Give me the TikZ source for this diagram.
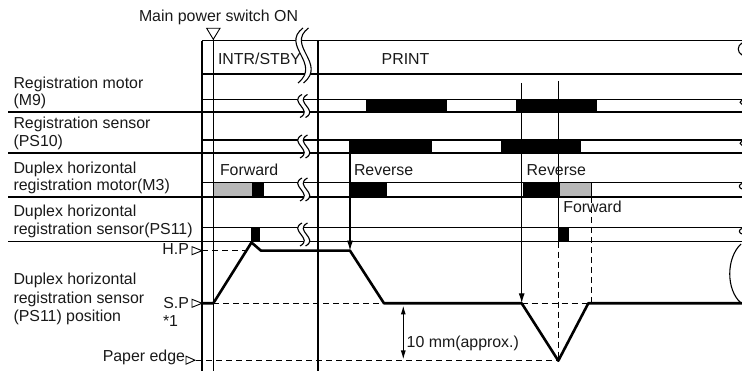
\documentclass[tikz,border=0pt]{standalone}
\usepackage{fontspec}
\setmainfont{Liberation Sans}
\usetikzlibrary{arrows.meta}
\tikzset{
  smallbrk/.pic={
    \fill[white] (2,-11.5) .. controls (-12,-4) and (14,4) .. (0,11.5) -- (5.5,11.5) .. controls (19.5,4) and (-6.5,-4) .. (7.5,-11.5) -- cycle;
    \draw[line width=1.1pt] (2,-11.5) .. controls (-12,-4) and (14,4) .. (0,11.5);
    \draw[line width=1.1pt] (7.5,-11.5) .. controls (-6.5,-4) and (19.5,4) .. (5.5,11.5);
  },
  bigbrk/.pic={
    \fill[white] (3,-27.5) .. controls (-20,-10) and (22,8) .. (-2,27.5) -- (3.5,27.5) .. controls (27.5,8) and (-14.5,-10) .. (8.5,-27.5) -- cycle;
    \draw[line width=1.1pt] (3,-27.5) .. controls (-20,-10) and (22,8) .. (-2,27.5);
    \draw[line width=1.1pt] (8.5,-27.5) .. controls (-14.5,-10) and (27.5,8) .. (3.5,27.5);
  },
}
\begin{document}
\begin{tikzpicture}[x=1pt,y=-1pt,
  every node/.style={inner sep=0pt, outer sep=0pt, text=black!90},
  txt/.style={anchor=base west, font=\fontsize{15.9}{18}\selectfont},
  txtr/.style={anchor=base east, font=\fontsize{15.9}{18}\selectfont},
  thinln/.style={line width=1.1pt},
  sepln/.style={line width=1.4pt},
  heavyln/.style={line width=2.2pt},
  plotln/.style={line width=2.6pt, line join=round},
  dashln/.style={line width=1.1pt, dash pattern=on 6pt off 4pt},
  blackbar/.style={fill=black},
  graybar/.style={fill=black!28, draw=black, line width=0.8pt},
  marker/.style={draw=black, fill=white, line width=0.9pt, line join=miter},
  arr/.style={line width=1.1pt, -{Latex[length=10pt,width=6pt]}},
  dimarr/.style={line width=1.1pt, {Latex[length=9pt,width=5pt]}-{Latex[length=9pt,width=5pt]}},
]
\useasboundingbox (0,0) rectangle (742,371);

% ---------- bars ----------
% Row 1 (M9)
\fill[blackbar] (366,99.5) rectangle (447,112);
\fill[blackbar] (516,99.5) rectangle (597,112);
% Row 2 (PS10)
\fill[blackbar] (350,140) rectangle (431.7,153);
\fill[blackbar] (501,140) rectangle (581,153);
% Row 3 (M3)
\filldraw[graybar] (213.3,182.5) rectangle (252.7,197);
\fill[blackbar] (252.7,182.5) rectangle (264,197);
\fill[blackbar] (350,182.5) rectangle (386.7,197);
\fill[blackbar] (522.7,182.5) rectangle (559,197);
\filldraw[graybar] (559,182.5) rectangle (591.7,197);
% Row 4 (PS11)
\fill[blackbar] (251,227.5) rectangle (260,241.7);
\fill[blackbar] (558.3,227.5) rectangle (569,241.7);

% ---------- horizontal lines ----------
\draw[thinln] (202,40.7) -- (742,40.7);
\draw[thinln] (202,74) -- (742,74);
\draw[thinln] (202,99.5) -- (742,99.5);
\draw[heavyln] (8,112) -- (742,112);
\draw[thinln] (202,140) -- (742,140);
\draw[sepln] (8,153) -- (742,153);
\draw[thinln] (202,182.5) -- (742,182.5);
\draw[sepln] (8,197) -- (742,197);
\draw[thinln] (202,227.5) -- (742,227.5);
\draw[sepln] (8,241.7) -- (742,241.7);

% ---------- dashed reference lines ----------
\draw[dashln] (202,250.7) -- (246,250.7);
\draw[dashln] (213,303.3) -- (384,303.3);
\draw[dashln] (521.7,303.3) -- (588.3,303.3);
\draw[dashln] (196,360.7) -- (558.3,360.7);
\draw[dashln] (558.3,241.7) -- (558.3,360.7);
\draw[dashln] (591.7,197) -- (591.7,303.3);

% ---------- vertical lines ----------
\draw[thinln] (202,40.7) -- (202,371);
\draw[thinln] (213.3,39) -- (213.3,371);
\draw[thinln] (318,40.7) -- (318,371);

% ---------- position plot ----------
\draw[plotln] (202,303.3) -- (213.3,303.3) -- (251.5,242.5) -- (261,250.7) -- (350,250.7)
  -- (384,303.3) -- (521.7,303.3) -- (558.3,360.7) -- (588.3,303.3) -- (742,303.3);

% ---------- event lines / arrows ----------
\coordinate (a1s) at (350,140);
\coordinate (a1e) at (350,250.7);
\coordinate (a2s) at (521.7,83);
\coordinate (a2e) at (521.7,303.3);
\coordinate (l3s) at (558.3,81);
\coordinate (l3e) at (558.3,241.7);
\coordinate (d1) at (403.3,305.5);
\coordinate (d2) at (403.3,359.5);
\draw[arr] (a1s) -- (a1e);
\draw[arr] (a2s) -- (a2e);
\draw[thinln] (l3s) -- (l3e);
\draw[dimarr] (d1) -- (d2);

% ---------- break marks ----------
\pic at (300,55.5) {bigbrk};
\pic at (300,106) {smallbrk};
\pic at (300,146.5) {smallbrk};
\pic at (300,189.5) {smallbrk};
\pic at (300,234.5) {smallbrk};
% right edge marks
\draw[thinln] (742,43) .. controls (737,46) and (737,52) .. (742,55);
\draw[thinln] (742,100) .. controls (739.5,101) and (739.5,103.5) .. (742,104.5);
\draw[thinln] (742,141) .. controls (739.5,142) and (739.5,144.5) .. (742,145.5);
\draw[thinln] (742,183.5) .. controls (738.5,184.5) and (738.5,188) .. (742,189);
\draw[thinln] (742,228.5) .. controls (738.5,229.5) and (738.5,233) .. (742,234);
\draw[thinln] (741,244) .. controls (726,258) and (726,290) .. (741,303);

% ---------- markers ----------
\draw[marker] (206.7,28.3) -- (220,28.3) -- (213.3,39.3) -- cycle;
\draw[marker] (192,246.7) -- (202,250.7) -- (192,254.7) -- cycle;
\draw[marker] (192,299.3) -- (202,303.3) -- (192,307.3) -- cycle;
\draw[marker] (186,356.2) -- (195,360.2) -- (186,364.2) -- cycle;

% ---------- texts ----------
\node[txt] (mps) at (139,21.5) {Main power switch ON};
\node[txt] (intr) at (218,65) {INTR/STBY};
\node[txt] (print) at (381.7,65) {PRINT};
\node[txt] (r1a) at (13.5,88.3) {Registration motor};
\node[txt] (r1b) at (13.5,106) {(M9)};
\node[txt] (r2a) at (13.5,128.3) {Registration sensor};
\node[txt] (r2b) at (13.5,146.7) {(PS10)};
\node[txt] (r3a) at (13.5,173.3) {Duplex horizontal};
\node[txt] (r3b) at (13.5,191) {registration motor(M3)};
\node[txt] (r4a) at (13.5,216.7) {Duplex horizontal};
\node[txt] (r4b) at (13.5,235) {registration sensor(PS11)};
\node[txt] (r5a) at (13.5,285) {Duplex horizontal};
\node[txt] (r5b) at (13.5,303.3) {registration sensor};
\node[txt] (r5c) at (13.5,321.7) {(PS11) position};
\node[txtr] (hp) at (189,255) {H.P};
\node[txtr] (sp) at (189,308.3) {S.P};
\node[txt] (st1) at (163,326.7) {*1};
\node[txtr] (pe) at (185,361.7) {Paper edge};
\node[txt] (fw1) at (220,176) {Forward};
\node[txt] (rv1) at (354,176) {Reverse};
\node[txt] (rv2) at (526.7,176) {Reverse};
\node[txt] (fw2) at (563.3,212.3) {Forward};
\node[txt] (dim) at (406.7,347.3) {10 mm(approx.)};
\end{tikzpicture}
\end{document}
